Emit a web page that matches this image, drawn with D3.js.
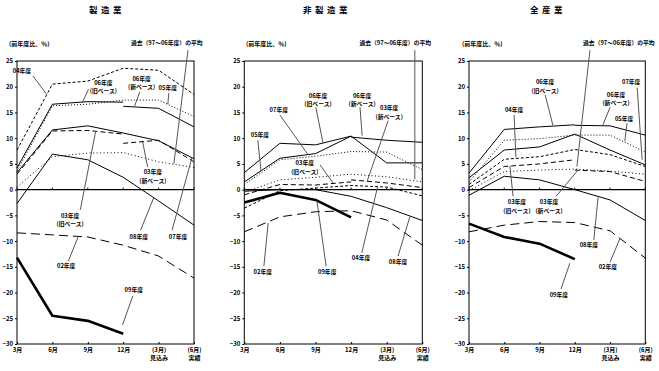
<!DOCTYPE html>
<html>
<head>
<meta charset="utf-8">
<script src="https://cdn.jsdelivr.net/npm/d3@7"></script>
<style>
  body { margin: 0; background: #fff; }
  svg { display: block; font-family: "Noto Sans CJK JP", sans-serif; }
</style>
</head>
<body>
<div id="chart"></div>
<script>
// ---- data ----
const months = ["3月", "6月", "9月", "12月", "(3月)", "(6月)"];
const monthNotes = ["", "", "", "", "見込み", "実績"];
const yTicks = [25, 20, 15, 10, 5, 0, -5, -10, -15, -20, -25, -30];
const panelTitles = ["製造業", "非製造業", "全産業"];
const avgLabel = "過去（97～06年度）の平均";

const seriesNames = ["02年度", "03年度(旧ベース)", "03年度(新ベース)", "04年度", "05年度",
  "06年度(旧ベース)", "06年度(新ベース)", "07年度", "08年度", "09年度", "過去平均"];

// 前年度比（％）, 3月 6月 9月 12月 (3月)見込み (6月)実績
const mfgValues = [
  [-8.4, -8.8, -9.2, -10.8, -12.9, -17.2],
  [3.0, 11.4, 11.5, 10.8, null, null],
  [null, null, null, 9.0, 9.6, 5.4],
  [7.7, 20.5, 21.1, 23.6, 23.2, 18.5],
  [3.6, 16.3, 16.6, 17.4, 17.4, 14.2],
  [4.2, 16.6, 17.1, 17.0, null, null],
  [null, null, null, 16.2, 15.8, 12.2],
  [3.3, 11.6, 12.4, 11.0, 9.5, 6.0],
  [-2.7, 6.9, 5.8, 2.4, -2.2, -6.9],
  [-13.2, -24.5, -25.5, -28.0, null, null],
  [0.5, 6.4, 7.1, 7.2, 5.4, 4.3]
];
const nonMfgValues = [
  [-8.2, -5.3, -4.3, -4.1, -5.9, -10.8],
  [-1.0, 1.0, 0.9, 1.5, null, null],
  [null, null, null, 1.9, 1.3, 0.4],
  [-3.6, -0.2, 0.3, 0.8, 0.5, -1.2],
  [1.0, 5.8, 6.5, 7.4, 7.3, 3.9],
  [3.3, 9.0, 8.7, 10.4, null, null],
  [null, null, null, 10.2, 9.6, 9.2],
  [1.5, 6.1, 7.0, 10.4, 5.2, 5.2],
  [-0.3, 0.0, 0.0, -1.3, -3.5, -6.0],
  [-2.5, -0.6, -2.0, -5.4, null, null],
  [-0.5, 1.9, 2.4, 3.0, 2.5, 1.5]
];
const allValues = [
  [-8.2, -6.9, -6.2, -6.4, -8.0, -13.3],
  [0.4, 4.5, 5.0, 5.8, null, null],
  [null, null, null, 3.8, 3.5, 1.6],
  [1.0, 5.9, 6.4, 7.8, 6.8, 4.5],
  [1.5, 9.6, 9.9, 10.6, 10.6, 7.3],
  [3.2, 11.7, 12.2, 12.6, null, null],
  [null, null, null, 12.5, 12.4, 10.6],
  [2.3, 7.7, 8.3, 10.8, 7.7, 4.8],
  [-1.1, 2.6, 1.9, 0.0, -2.0, -6.0],
  [-6.6, -9.2, -10.5, -13.5, null, null],
  [-0.2, 3.5, 3.8, 4.0, 3.6, 3.0]
];

// annotations in data units: text centre [x index, value], pointer [from, to]
const mfgNotes = [
  { t: ["04年度"], c: [0.14, 23.0], p: [[0.45, 22.1], [0.84, 18.5]] },
  { t: ["06年度", "(旧ベース)"], c: [2.44, 20.0], p: [[2.02, 19.5], [1.85, 17.0]] },
  { t: ["06年度", "(新ベース)"], c: [3.52, 20.7], p: [[3.47, 19.0], [3.32, 16.2]] },
  { t: ["05年度"], c: [4.26, 19.8], p: [[4.29, 18.8], [4.26, 16.6]] },
  { t: ["03年度", "(旧ベース)"], c: [1.5, -5.9], p: [[1.79, -3.9], [2.22, 11.3]] },
  { t: ["03年度", "(新ベース)"], c: [3.84, 2.6], p: [[3.69, 4.4], [3.55, 9.3]] },
  { t: ["08年度"], c: [3.44, -9.2], p: [[3.49, -7.9], [3.86, -1.6]] },
  { t: ["07年度"], c: [4.55, -9.2], p: [[4.38, -7.9], [4.94, 6.2]] },
  { t: ["02年度"], c: [1.39, -14.9], p: [[1.45, -13.9], [1.73, -9.1]] },
  { t: ["09年度"], c: [3.3, -19.5], p: [[3.27, -20.7], [2.98, -26.3]] }
];
const nonMfgNotes = [
  { t: ["05年度"], c: [0.44, 10.6], p: [[0.38, 9.6], [0.47, 3.6]] },
  { t: ["07年度"], c: [0.97, 15.5], p: [[1.0, 14.5], [1.79, 6.8]] },
  { t: ["06年度", "(旧ベース)"], c: [2.07, 17.4], p: [[2.01, 16.0], [2.21, 9.1]] },
  { t: ["06年度", "(新ベース)"], c: [3.31, 17.4], p: [[3.25, 16.0], [3.31, 10.5]] },
  { t: ["03年度", "(新ベース)"], c: [4.07, 15.0], p: [[4.04, 13.4], [3.45, 1.6]] },
  { t: ["03年度", "(旧ベース)"], c: [1.7, 4.3], p: [[2.13, 4.8], [2.49, 1.3]] },
  { t: ["02年度"], c: [0.52, -16.0], p: [[0.55, -14.9], [0.67, -6.5]] },
  { t: ["09年度"], c: [2.33, -16.0], p: [[2.3, -14.9], [2.04, -2.2]] },
  { t: ["04年度"], c: [3.28, -13.3], p: [[3.3, -12.3], [3.75, 0.7]] },
  { t: ["08年度"], c: [4.32, -14.1], p: [[4.32, -12.9], [4.65, -5.3]] }
];
const allNotes = [
  { t: ["04年度"], c: [1.28, 15.5], p: [[1.28, 14.5], [1.33, 6.3]] },
  { t: ["06年度", "(旧ベース)"], c: [2.16, 20.1], p: [[2.16, 18.4], [2.38, 12.5]] },
  { t: ["06年度", "(新ベース)"], c: [4.17, 17.6], p: [[4.0, 16.0], [3.8, 12.6]] },
  { t: ["05年度"], c: [4.4, 13.7], p: [[4.48, 12.9], [4.42, 9.4]] },
  { t: ["07年度"], c: [4.6, 20.9], p: [[4.77, 19.8], [4.91, 5.8]] },
  { t: ["03年度", "(旧ベース)"], c: [1.36, -3.3], p: [[1.25, -1.3], [1.16, 4.6]] },
  { t: ["03年度", "(新ベース)"], c: [2.27, -3.3], p: [[2.47, -1.3], [3.09, 3.8]] },
  { t: ["08年度"], c: [3.4, -10.8], p: [[3.54, -9.8], [3.66, -1.5]] },
  { t: ["02年度"], c: [3.94, -15.1], p: [[4.0, -14.1], [4.28, -9.5]] },
  { t: ["09年度"], c: [2.55, -20.5], p: [[2.61, -19.3], [2.86, -14.3]] }
];
const avgNotes = [
  { c: [4.23, 28.5], p: [[4.83, 27.1], [4.43, 5.0]] },
  { c: [4.24, 28.5], p: [[4.79, 27.1], [4.79, 2.0]] },
  { c: [4.25, 28.5], p: [[3.43, 27.1], [3.06, 4.5]] }
];

// ---- styles / layout ----
const lineStyle = {
  "02年度": { w: 1, dash: "9,5" },
  "03年度(旧ベース)": { w: 1, dash: "5,3" },
  "03年度(新ベース)": { w: 1, dash: "5,3" },
  "04年度": { w: 1, dash: "3,2" },
  "05年度": { w: 1, dash: "1,2" },
  "06年度(旧ベース)": { w: 1, dash: null },
  "06年度(新ベース)": { w: 1, dash: null },
  "07年度": { w: 1, dash: null },
  "08年度": { w: 1, dash: null },
  "09年度": { w: 2.6, dash: null },
  "過去平均": { w: 1, dash: "1,2.5" }
};

const width = 659, height = 371;
const plotTop = 61, plotBottom = 344;
const font = "'Noto Sans CJK JP', sans-serif";
const noteSize = 5.8, noteGap = 8.5;
const panels = [
  { left: 17, right: 194, titleX: 107, ylabX: 9, values: mfgValues, notes: mfgNotes },
  { left: 244.3, right: 422.3, titleX: 327, ylabX: 246, values: nonMfgValues, notes: nonMfgNotes },
  { left: 469, right: 645.3, titleX: 548, ylabX: 462, values: allValues, notes: allNotes }
];

const svg = d3.select("#chart").append("svg")
  .attr("width", width).attr("height", height);

svg.append("rect").attr("width", width).attr("height", height).attr("fill", "#fff");

const y = d3.scaleLinear().domain([-30, 25]).range([plotBottom, plotTop]);

panels.forEach((pn, k) => {
  const g = svg.append("g");
  const x = d3.scaleLinear().domain([0, months.length - 1]).range([pn.left, pn.right]);

  // title
  g.append("text")
    .attr("x", pn.titleX).attr("y", 13)
    .attr("text-anchor", "middle")
    .attr("font-size", 8.5).attr("font-weight", 700)
    .attr("letter-spacing", 3.5)
    .text(panelTitles[k]);

  // y unit
  g.append("text")
    .attr("x", pn.ylabX).attr("y", 46)
    .attr("font-size", 6).attr("font-weight", 700)
    .text("(前年度比、％)");

  // y axis
  const yAxis = d3.axisLeft(y).tickValues(yTicks).tickSize(2).tickPadding(2);
  const ya = g.append("g").attr("transform", `translate(${pn.left},0)`).call(yAxis);
  ya.select(".domain").remove();
  ya.selectAll("text").attr("font-size", 6).attr("font-weight", 700).attr("font-family", font);

  // x axis labels
  const xAxis = d3.axisBottom(x).tickValues(d3.range(months.length))
    .tickFormat(i => months[i]).tickSize(2).tickPadding(4);
  const xa = g.append("g").attr("transform", `translate(0,${plotBottom})`).call(xAxis);
  xa.select(".domain").remove();
  xa.selectAll(".tick line").attr("y2", -2);
  xa.selectAll(".tick text").attr("y", 4)
    .attr("font-size", 6).attr("font-weight", 700).attr("font-family", font);
  xa.selectAll(".tick").append("text")
    .attr("fill", "#000").attr("y", 11.5).attr("dy", "0.71em")
    .attr("font-size", 6).attr("font-weight", 700).attr("font-family", font)
    .text(i => monthNotes[i]);

  // frame and zero line
  g.append("rect")
    .attr("x", pn.left).attr("y", plotTop)
    .attr("width", pn.right - pn.left).attr("height", plotBottom - plotTop)
    .attr("fill", "none").attr("stroke", "#000").attr("stroke-width", 1);
  g.append("line")
    .attr("x1", pn.left).attr("x2", pn.right)
    .attr("y1", y(0)).attr("y2", y(0))
    .attr("stroke", "#000").attr("stroke-width", 1.2);
  g.selectAll(".ztick").data(d3.range(months.length)).enter()
    .append("line")
    .attr("x1", i => x(i)).attr("x2", i => x(i))
    .attr("y1", y(0) - 2).attr("y2", y(0))
    .attr("stroke", "#000");

  // series
  const line = d3.line()
    .defined(d => d != null)
    .x((d, i) => x(i))
    .y(d => y(d));

  g.append("g").selectAll("path").data(pn.values).enter()
    .append("path")
    .attr("d", d => line(d))
    .attr("fill", "none")
    .attr("stroke", "#000")
    .attr("stroke-width", (d, i) => lineStyle[seriesNames[i]].w)
    .attr("stroke-dasharray", (d, i) => lineStyle[seriesNames[i]].dash)
    .attr("stroke-linejoin", "round");

  // pointers + labels
  const notes = pn.notes;
  const ptr = d3.line().x(d => x(d[0])).y(d => y(d[1]));
  g.append("g").selectAll("path").data(notes.concat([avgNotes[k]])).enter()
    .append("path")
    .attr("d", d => ptr(d.p))
    .attr("stroke", "#555").attr("stroke-width", 1).attr("fill", "none");

  const lab = g.append("g").selectAll("text").data(notes).enter()
    .append("text")
    .attr("text-anchor", "middle")
    .attr("font-size", noteSize).attr("font-weight", 700);
  lab.each(function (d) {
    const el = d3.select(this);
    const cy = y(d.c[1]) - (d.t.length - 1) * noteGap / 2 + 2.1;
    d.t.forEach((s, j) => {
      el.append("tspan").attr("x", x(d.c[0])).attr("y", cy + j * noteGap).text(s);
    });
  });

  g.append("text")
    .attr("x", x(avgNotes[k].c[0])).attr("y", y(avgNotes[k].c[1]) + 2.1)
    .attr("text-anchor", "middle")
    .attr("font-size", noteSize).attr("font-weight", 700)
    .text(avgLabel);
});
</script>
</body>
</html>
